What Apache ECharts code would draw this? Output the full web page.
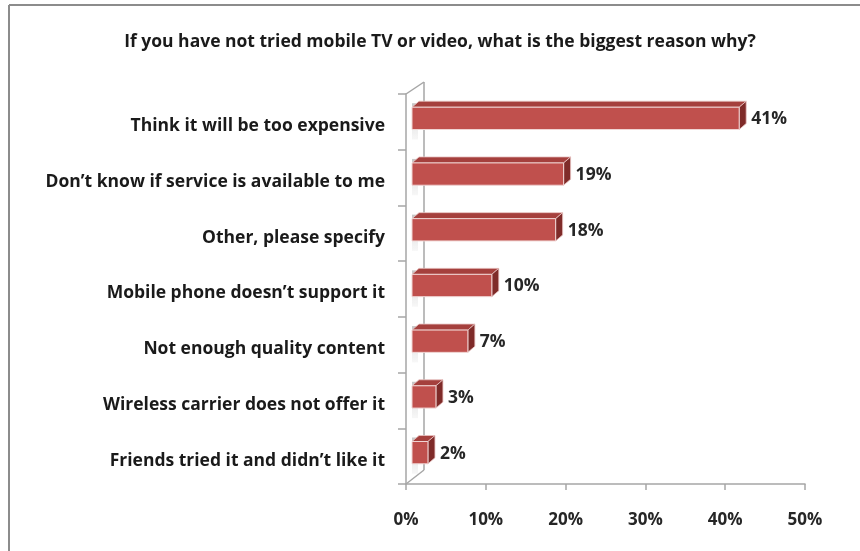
<!DOCTYPE html>
<html>
<head>
<meta charset="utf-8">
<script src="https://cdn.jsdelivr.net/npm/echarts@6/dist/echarts.min.js"></script>
<style>
  html, body { margin: 0; padding: 0; background: #fff; }
  #chart { width: 860px; height: 551px; }
</style>
</head>
<body>
<div id="chart"></div>
<script>
  const titleText = 'If you have not tried mobile TV or video, what is the biggest reason why?'
  const categories = [
    'Think it will be too expensive',
    'Don\u2019t know if service is available to me',
    'Other, please specify',
    'Mobile phone doesn\u2019t support it',
    'Not enough quality content',
    'Wireless carrier does not offer it',
    'Friends tried it and didn\u2019t like it',
  ]
  const values = [41, 19, 18, 10, 7, 3, 2]
  const xTicks = [0, 10, 20, 30, 40, 50]

  const FONT = '"Open Sans"'
  const DEPTH_X = 7, DEPTH_Y = -6   // bar depth
  const FRONT = 6                   // gap between wall and bar front
  const WALL_X = 18, WALL_Y = -14   // wall depth

  function renderBar (params, api) {
    const v = api.value(0)
    const c = api.value(1)
    const p0 = api.coord([0, c])
    const p1 = api.coord([v, c])
    const band = api.size([0, 1])[1]
    const h = band * 0.4
    const x0 = p0[0] + FRONT
    const x1 = p1[0] + FRONT
    const yT = p0[1] - 3.5 - h / 2
    const yB = yT + h
    return {
      type: 'group',
      children: [
        { // shadow on the wall
          type: 'rect',
          shape: { x: x0, y: yT - 4, width: 6, height: h + 14 },
          style: {
            fill: new echarts.graphic.LinearGradient(0, 0, 0, 1, [
              { offset: 0, color: 'rgba(150,150,150,0.55)' },
              { offset: 1, color: 'rgba(200,200,200,0.15)' },
            ]),
          },
        },
        {
          type: 'polygon',
          shape: { points: [[x0, yT], [x0 + DEPTH_X, yT + DEPTH_Y], [x1 + DEPTH_X, yT + DEPTH_Y], [x1, yT]] },
          style: { fill: '#A5403D', stroke: '#E9C3C2', lineWidth: 0.8 },
        },
        {
          type: 'polygon',
          shape: { points: [[x1, yT], [x1 + DEPTH_X, yT + DEPTH_Y], [x1 + DEPTH_X, yB + DEPTH_Y], [x1, yB]] },
          style: { fill: '#7F2B29', stroke: '#E9C3C2', lineWidth: 0.8 },
        },
        {
          type: 'rect',
          shape: { x: x0, y: yT, width: x1 - x0, height: h },
          style: { fill: '#C0504D', stroke: '#F0D4D3', lineWidth: 1 },
        },
        {
          type: 'text',
          style: {
            x: x1 + DEPTH_X + 5,
            y: yT + h / 2 + 1,
            text: v + '%',
            verticalAlign: 'middle',
            fill: '#262626',
            font: 'bold 17.5px ' + FONT,
          },
        },
      ],
    }
  }

  function renderWall (params, api) {
    const cs = params.coordSys
    const x = cs.x, y = cs.y, bottom = cs.y + cs.height
    const lineStyle = { stroke: '#A6A6A6', lineWidth: 1.5, fill: null }
    return {
      type: 'group',
      children: [
        { type: 'line', shape: { x1: x, y1: y, x2: x + WALL_X, y2: y + WALL_Y + 2 }, style: lineStyle },
        { type: 'line', shape: { x1: x + WALL_X, y1: y + WALL_Y + 2, x2: x + WALL_X, y2: bottom + WALL_Y }, style: lineStyle },
        { type: 'line', shape: { x1: x, y1: bottom, x2: x + WALL_X, y2: bottom + WALL_Y }, style: lineStyle },
      ],
    }
  }

  const chart = echarts.init(document.getElementById('chart'))
  chart.setOption({
    animation: false,
    title: {
      text: titleText,
      left: 435,
      textAlign: 'center',
      top: 28,
      textStyle: { fontFamily: FONT, fontSize: 17.5, fontWeight: 'bold', color: '#1a1a1a' },
    },
    graphic: [
      { type: 'line', shape: { x1: 9, y1: 5, x2: 860, y2: 5 }, style: { stroke: '#8C8C8C', lineWidth: 2 } },
      { type: 'line', shape: { x1: 9, y1: 5, x2: 9, y2: 551 }, style: { stroke: '#8C8C8C', lineWidth: 2 } },
    ],
    grid: { left: 406, right: 55, top: 94, bottom: 67 },
    xAxis: {
      type: 'value',
      min: xTicks[0],
      max: xTicks[xTicks.length - 1],
      interval: 10,
      axisLine: { show: true, lineStyle: { color: '#A6A6A6', width: 1.5 } },
      axisTick: { show: true, length: 6, lineStyle: { color: '#A6A6A6', width: 1.5 } },
      splitLine: { show: false },
      axisLabel: {
        formatter: '{value}%',
        margin: 28,
        fontFamily: FONT, fontSize: 17, fontWeight: 'bold', color: '#262626',
      },
    },
    yAxis: {
      type: 'category',
      inverse: true,
      data: categories,
      axisLine: { show: true, lineStyle: { color: '#A6A6A6', width: 1.5 } },
      axisTick: { show: true, length: 8, lineStyle: { color: '#A6A6A6', width: 1.5 } },
      axisLabel: {
        margin: 21,
        formatter: (v) => '{c|' + v + '}',
        rich: {
          c: {
            padding: [9, 0, 0, 0],
            fontFamily: FONT, fontSize: 17.5, fontWeight: 'bold', color: '#1a1a1a',
          },
        },
      },
    },
    series: [
      {
        type: 'custom',
        clip: false,
        z: 1,
        renderItem: renderWall,
        data: [[0, 0]],
        encode: { x: 0, y: 1 },
      },
      {
        type: 'custom',
        clip: false,
        z: 2,
        renderItem: renderBar,
        data: values.map((v, i) => [v, i]),
        encode: { x: 0, y: 1 },
      },
    ],
  })
</script>
</body>
</html>
